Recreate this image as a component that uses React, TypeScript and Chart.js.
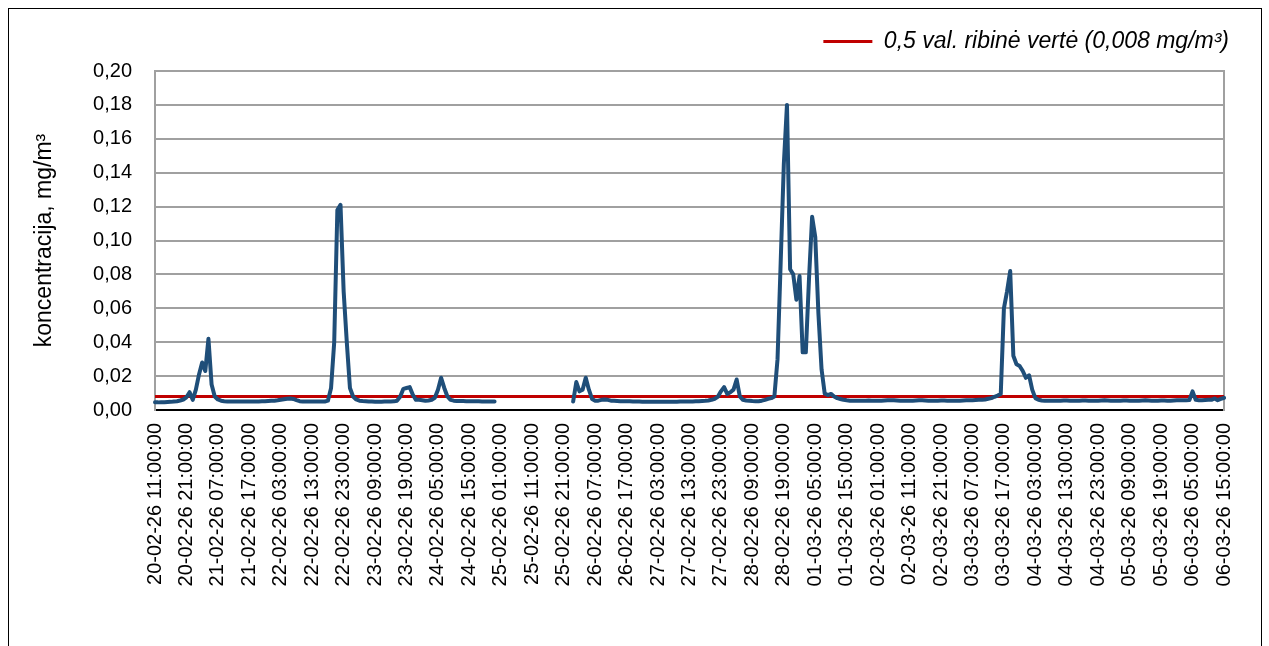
import React, { useEffect, useRef } from "react";
import { Chart, registerables } from "chart.js";

Chart.register(...registerables);

// ---- data -------------------------------------------------------------
const START_UTC = Date.UTC(2026, 1, 20, 11, 0, 0); // 20-02-26 11:00:00, hourly
const HOURS = 341;
const TICK_EVERY = 10;

const p2 = (n: number) => String(n).padStart(2, "0");
const CATEGORIES: string[] = [];
for (let h = 0; h < HOURS; h++) {
  const d = new Date(START_UTC + h * 3600000);
  CATEGORIES.push(
    `${p2(d.getUTCDate())}-${p2(d.getUTCMonth() + 1)}-${p2(d.getUTCFullYear() % 100)} ${p2(d.getUTCHours())}:00:00`
  );
}

const SERIES_LABEL = "koncentracija";
const VALUES: (number | null)[] = [
  0.0045, 0.0045, 0.0046, 0.0046, 0.0047, 0.0048, 0.005, 0.0052, 0.0056, 0.0062,
  0.0075, 0.0105, 0.006, 0.012, 0.021, 0.028, 0.023, 0.042, 0.015, 0.008,
  0.0062, 0.0055, 0.0052, 0.005, 0.005, 0.005, 0.005, 0.005, 0.005, 0.005,
  0.005, 0.005, 0.005, 0.005, 0.0051, 0.0052, 0.0053, 0.0054, 0.0055, 0.0057,
  0.006, 0.0063, 0.0066, 0.0068, 0.0065, 0.0058, 0.0052, 0.005, 0.005, 0.005,
  0.005, 0.005, 0.005, 0.005, 0.005, 0.0055, 0.013, 0.04, 0.118, 0.121,
  0.07, 0.04, 0.013, 0.008, 0.0062, 0.0055, 0.0053, 0.0052, 0.005, 0.005,
  0.0049, 0.0049, 0.0049, 0.005, 0.005, 0.005, 0.0051, 0.0055, 0.008, 0.0125,
  0.013, 0.0135, 0.009, 0.006, 0.006, 0.0058, 0.0055, 0.0056, 0.006, 0.0072,
  0.012, 0.019, 0.013, 0.008, 0.006, 0.0055, 0.0053, 0.0053, 0.0053, 0.0052,
  0.0052, 0.0052, 0.0051, 0.0051, 0.005, 0.005, 0.005, 0.005, 0.005, null,
  null, null, null, null, null, null, null, null, null, null,
  null, null, null, null, null, null, null, null, null, null,
  null, null, null, 0.005, 0.0165, 0.011, 0.012, 0.019, 0.012, 0.0065,
  0.0055, 0.0055, 0.006, 0.0062, 0.006, 0.0055, 0.0054, 0.0053, 0.0052, 0.0052,
  0.0051, 0.0051, 0.005, 0.005, 0.005, 0.0049, 0.0049, 0.0049, 0.0048, 0.0048,
  0.0048, 0.0048, 0.0048, 0.0048, 0.0049, 0.0049, 0.0049, 0.005, 0.005, 0.005,
  0.005, 0.005, 0.0051, 0.0052, 0.0053, 0.0054, 0.0056, 0.006, 0.0066, 0.0078,
  0.011, 0.0135, 0.0095, 0.0105, 0.012, 0.018, 0.008, 0.006, 0.0056, 0.0055,
  0.0053, 0.0052, 0.0052, 0.0055, 0.006, 0.0066, 0.007, 0.008, 0.03, 0.087,
  0.145, 0.18, 0.083, 0.08, 0.065, 0.079, 0.034, 0.034, 0.077, 0.114,
  0.102, 0.057, 0.024, 0.0098, 0.0088, 0.0095, 0.008, 0.007, 0.0065, 0.006,
  0.0057, 0.0055, 0.0055, 0.0054, 0.0054, 0.0055, 0.0055, 0.0056, 0.0055, 0.0054,
  0.0054, 0.0055, 0.0056, 0.0057, 0.0058, 0.0057, 0.0056, 0.0055, 0.0055, 0.0054,
  0.0054, 0.0055, 0.0056, 0.0057, 0.0057, 0.0056, 0.0055, 0.0054, 0.0054, 0.0055,
  0.0056, 0.0056, 0.0055, 0.0055, 0.0054, 0.0054, 0.0055, 0.0056, 0.0057, 0.0058,
  0.0058, 0.0059, 0.006, 0.006, 0.0062, 0.0066, 0.007, 0.0078, 0.0085, 0.0095,
  0.06, 0.07, 0.082, 0.032, 0.027, 0.026, 0.023, 0.019, 0.0205, 0.012,
  0.007, 0.006, 0.0056, 0.0055, 0.0055, 0.0054, 0.0054, 0.0055, 0.0055, 0.0056,
  0.0056, 0.0055, 0.0054, 0.0054, 0.0055, 0.0056, 0.0056, 0.0055, 0.0054, 0.0054,
  0.0055, 0.0056, 0.0057, 0.0056, 0.0055, 0.0054, 0.0054, 0.0055, 0.0056, 0.0056,
  0.0055, 0.0054, 0.0054, 0.0055, 0.0056, 0.0057, 0.0056, 0.0055, 0.0055, 0.0055,
  0.0056, 0.0056, 0.0055, 0.0055, 0.0056, 0.0057, 0.0058, 0.0058, 0.0058, 0.0059,
  0.011, 0.006, 0.0058, 0.0058, 0.0059, 0.006, 0.006, 0.0068, 0.0058, 0.0065,
  0.0072,
];

const LIMIT_LABEL = "0,5 val. ribinė vertė (0,008 mg/m³)";
const LIMIT_VALUE = 0.008;
const LIMIT_VALUES = CATEGORIES.map(() => LIMIT_VALUE);

const Y_TITLE = "koncentracija, mg/m³";
const Y_MIN = 0;
const Y_MAX = 0.2;
const Y_STEP = 0.02;

// ---- component --------------------------------------------------------
const FONT = "'Liberation Sans', Arial, sans-serif";
const GRID = "#a0a0a0";

export default function App() {
  const ref = useRef<HTMLCanvasElement | null>(null);

  useEffect(() => {
    if (!ref.current) return;
    const chart = new Chart(ref.current, {
      type: "line",
      data: {
        labels: CATEGORIES,
        datasets: [
          {
            label: SERIES_LABEL,
            data: VALUES,
            borderColor: "#1F4E79",
            backgroundColor: "#1F4E79",
            borderWidth: 4,
            pointRadius: 0,
            tension: 0,
            borderJoinStyle: "round",
            borderCapStyle: "round",
            spanGaps: false,
          },
          {
            label: LIMIT_LABEL,
            data: LIMIT_VALUES,
            borderColor: "#C00000",
            backgroundColor: "#C00000",
            borderWidth: 3,
            pointRadius: 0,
          },
        ],
      },
      options: {
        animation: false,
        responsive: true,
        maintainAspectRatio: false,
        layout: { padding: { top: 0, right: 11, bottom: 0, left: 0 } },
        plugins: {
          tooltip: { enabled: false },
          legend: {
            display: true,
            position: "top",
            align: "end",
            weight: 2000,
            labels: {
              filter: (item: any) => item.datasetIndex === 1,
              boxWidth: 49,
              boxHeight: 0,
              padding: 21,
              color: "#000",
              font: { family: FONT, size: 23, style: "italic" },
            },
          },
          subtitle: {
            display: true,
            text: "",
            position: "top",
            weight: 500,
            font: { size: 1, lineHeight: 1 },
            padding: { top: 0, bottom: 7 },
          },
        },
        scales: {
          x: {
            type: "category",
            offset: false,
            grid: { display: false, drawTicks: false },
            border: { display: true, color: "#000", width: 2 },
            ticks: {
              autoSkip: false,
              minRotation: 90,
              maxRotation: 90,
              padding: 13,
              color: "#000",
              font: { family: FONT, size: 20 },
              callback: (_v: any, index: number) =>
                index % TICK_EVERY === 0 ? CATEGORIES[index] : null,
            },
            afterFit: (scale: any) => {
              scale.height = 236;
            },
          },
          y: {
            position: "left",
            min: Y_MIN,
            max: Y_MAX,
            grid: {
              color: (ctx: any) => (ctx.tick && ctx.tick.value === 0 ? "rgba(0,0,0,0)" : GRID),
              lineWidth: 2,
              drawTicks: false,
            },
            border: { display: true, color: GRID, width: 2 },
            ticks: {
              stepSize: Y_STEP,
              padding: 23,
              color: "#000",
              font: { family: FONT, size: 20 },
              callback: (v: any) => Number(v).toFixed(2).replace(".", ","),
            },
            title: {
              display: true,
              text: Y_TITLE,
              color: "#000",
              font: { family: FONT, size: 23 },
              padding: { top: 22, bottom: 0 },
            },
            afterFit: (scale: any) => {
              scale.width = 146;
            },
          },
          y2: {
            position: "right",
            min: Y_MIN,
            max: Y_MAX,
            grid: { display: false, drawTicks: false },
            border: { display: true, color: GRID, width: 2 },
            ticks: { display: false },
            afterFit: (scale: any) => {
              scale.width = 20;
            },
          },
        },
      },
    } as any);
    return () => chart.destroy();
  }, []);

  return (
    <div
      style={{
        position: "fixed",
        left: 8,
        top: 8,
        width: 1252,
        height: 660,
        border: "1px solid #000",
        background: "#fff",
      }}
    >
      <div style={{ position: "relative", width: 1252, height: 637 }}>
        <canvas ref={ref} />
      </div>
    </div>
  );
}
